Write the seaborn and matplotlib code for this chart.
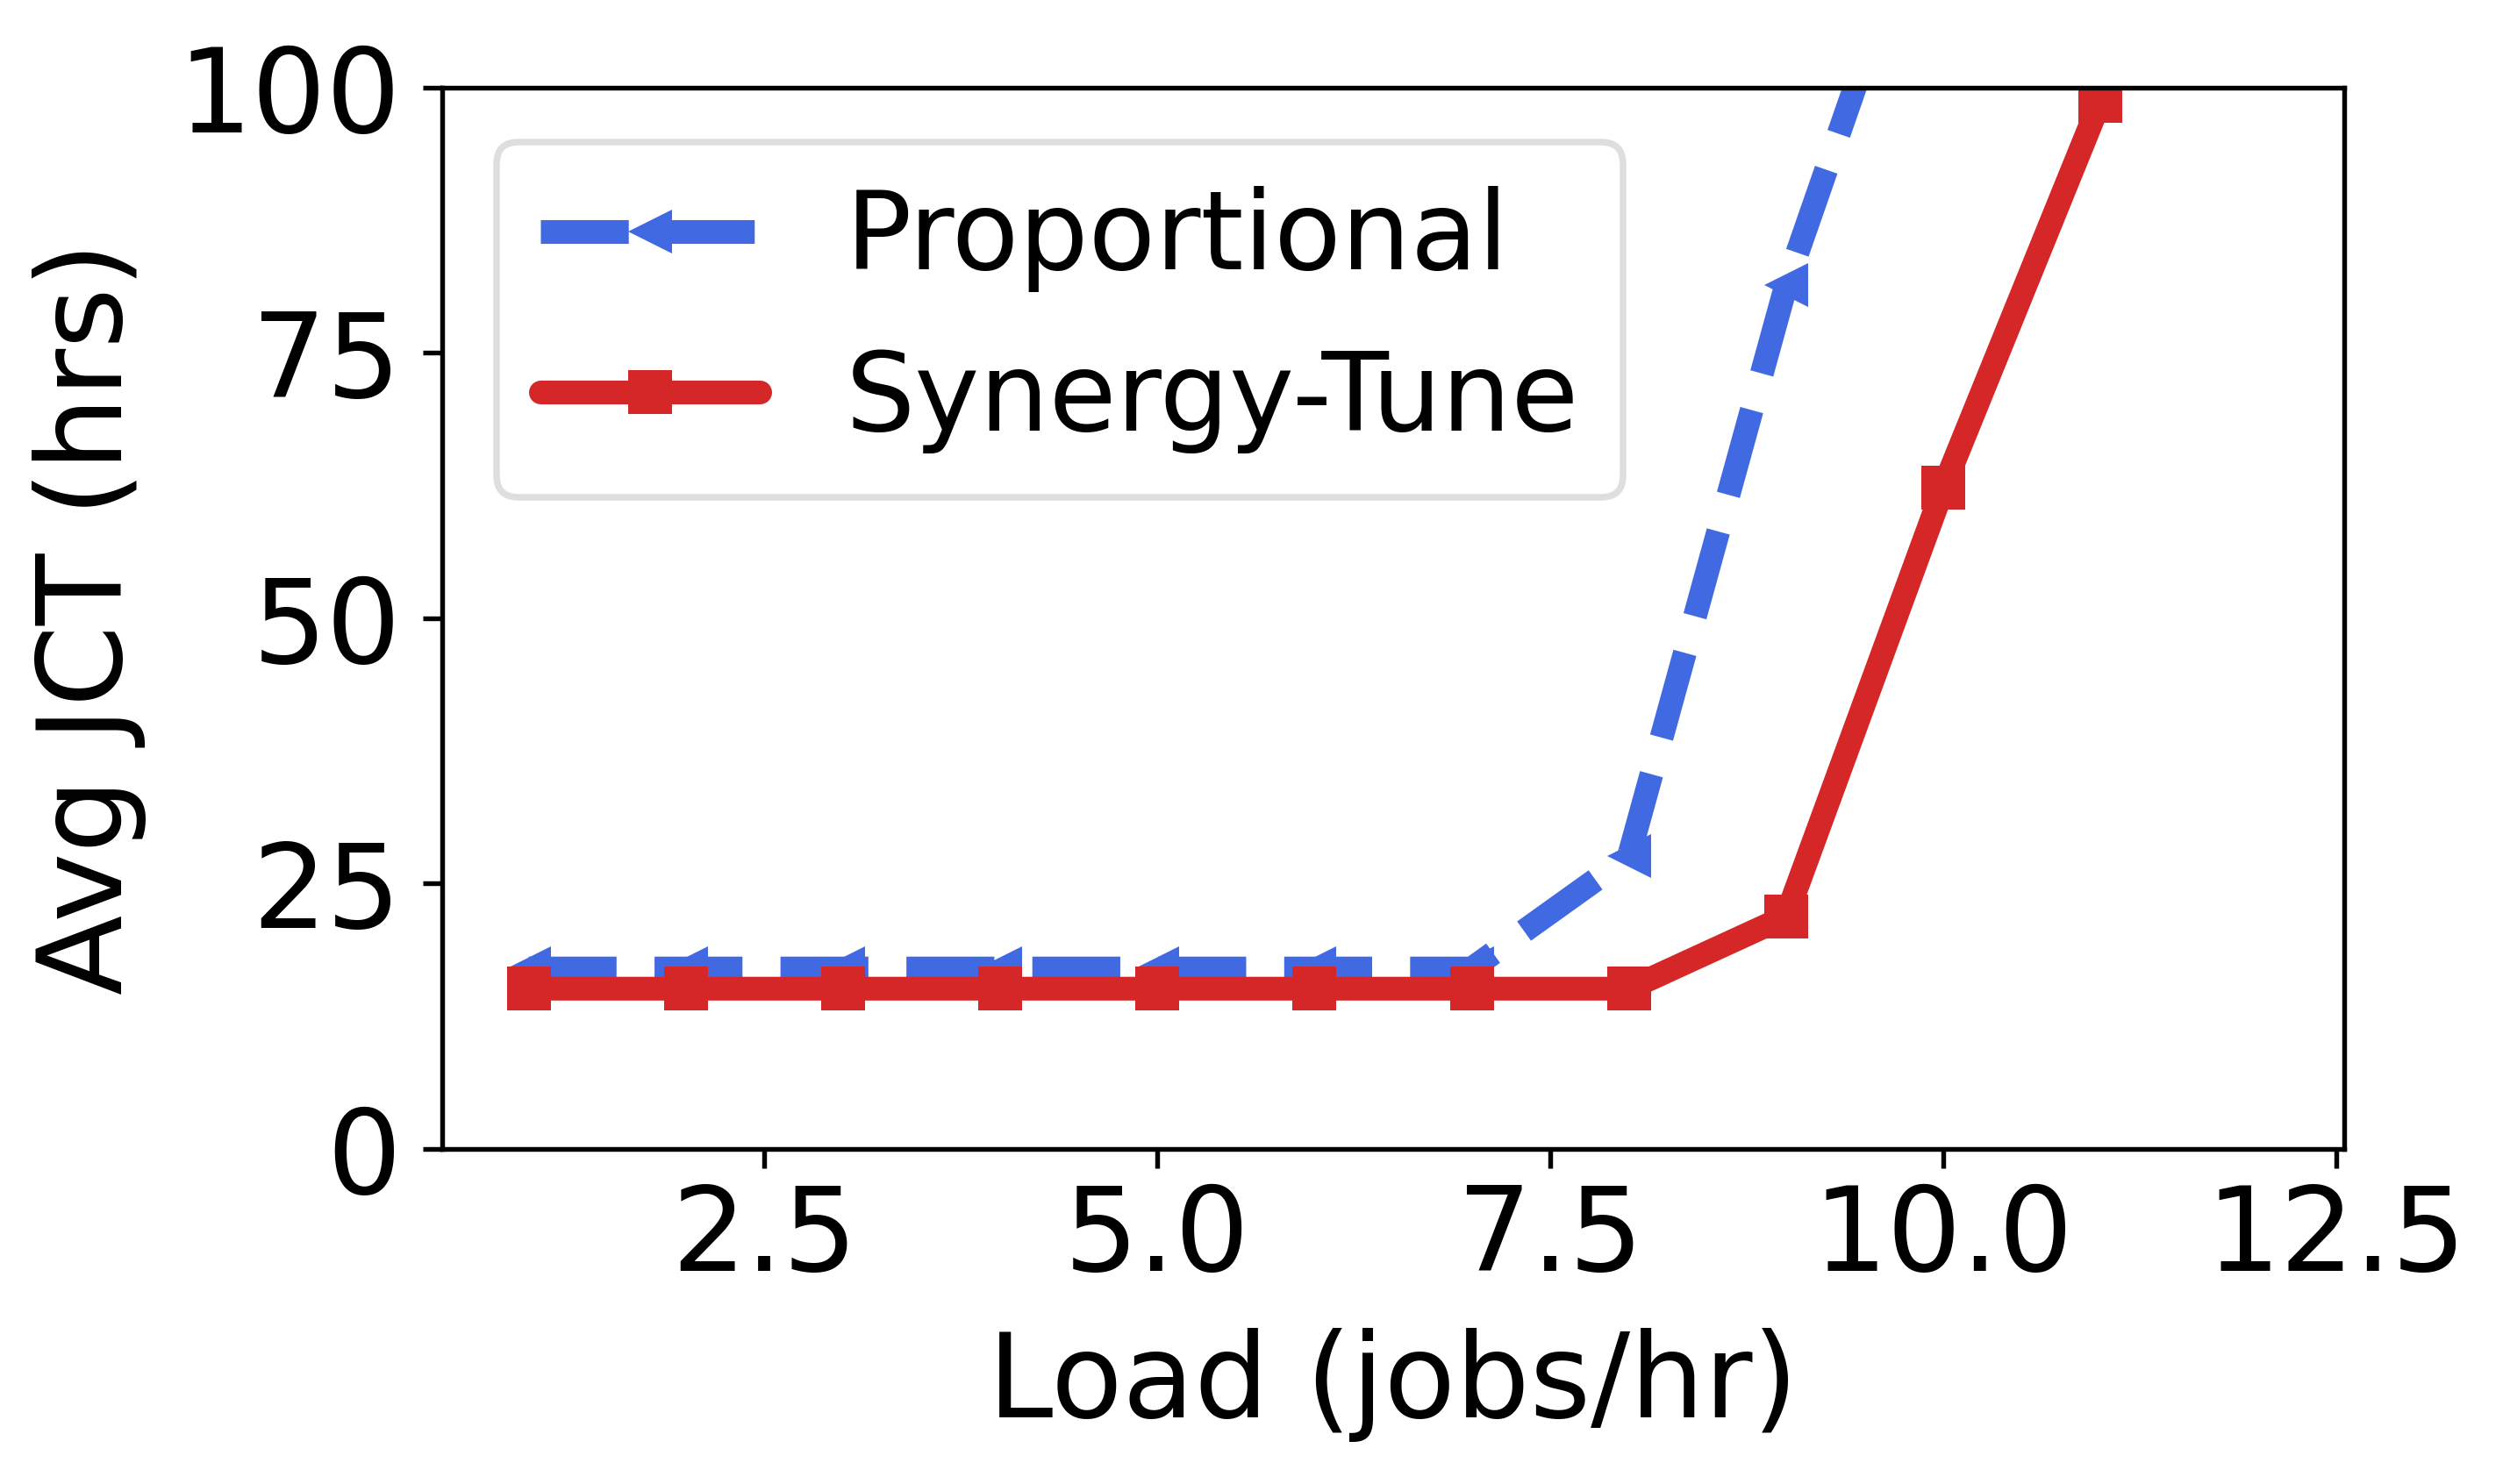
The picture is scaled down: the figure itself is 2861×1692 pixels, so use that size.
import matplotlib
matplotlib.use("Agg")
import matplotlib.pyplot as plt
import seaborn as sns
import pandas as pd

loads = [1, 2, 3, 4, 5, 6, 7, 8, 9, 10, 11, 12]
proportional = [17.0, 17.0, 17.0, 17.0, 17.0, 17.0, 17.0, 27.6, 81.4, 124.0, 170.0, 220.0]
synergy_tune = [15.1, 15.1, 15.1, 15.1, 15.1, 15.1, 15.1, 15.1, 21.9, 62.3, 98.8, 140.0]
series_names = ["Proportional", "Synergy-Tune"]
x_ticks = [2.5, 5.0, 7.5, 10.0, 12.5]
x_tick_labels = ["2.5", "5.0", "7.5", "10.0", "12.5"]
y_ticks = [0, 25, 50, 75, 100]

sns.set_style("ticks")
plt.rcParams['font.family'] = ['DejaVu Sans']
plt.rcParams['text.color'] = 'black'
plt.rcParams['axes.labelcolor'] = 'black'
plt.rcParams['xtick.color'] = 'black'
plt.rcParams['ytick.color'] = 'black'

fig = plt.figure(figsize=(9.54, 5.64), dpi=300)
ax = fig.add_axes([0.1761, 0.2258, 0.9336 - 0.1761, 0.9409 - 0.2258])

df_p = pd.DataFrame({"load": loads, "jct": proportional})
df_s = pd.DataFrame({"load": loads, "jct": synergy_tune})

sns.lineplot(data=df_p, x="load", y="jct", ax=ax, color="#4169E1", linestyle="--",
             marker="<", markersize=12, linewidth=6.5, label=series_names[0],
             markeredgewidth=0)
sns.lineplot(data=df_s, x="load", y="jct", ax=ax, color="#d62728", linestyle="-",
             marker="s", markersize=12, linewidth=6.5, label=series_names[1],
             markeredgewidth=0)

ax.set_ylim(0, 100)
ax.set_xlim(0.45, 12.55)
ax.set_yticks(y_ticks)
ax.set_xticks(x_ticks)
ax.set_xticklabels(x_tick_labels)
ax.tick_params(labelsize=32, width=1.3, length=5.3, colors="black")
ax.tick_params(axis="y", pad=6)
ax.set_xlabel("Load (jobs/hr)", fontsize=32, labelpad=9)
ax.set_ylabel("Avg JCT (hrs)", fontsize=32, labelpad=8.5)
for s in ax.spines.values():
    s.set_linewidth(1.3)
    s.set_color("black")

leg = ax.legend(loc="upper left", fontsize=30, frameon=True, handlelength=2.0,
                handletextpad=0.78, borderpad=0.4, labelspacing=0.5)
leg.get_frame().set_edgecolor("#d6d6d6")
leg.get_frame().set_linewidth(1.8)

fig.savefig("out.png", dpi=300)
